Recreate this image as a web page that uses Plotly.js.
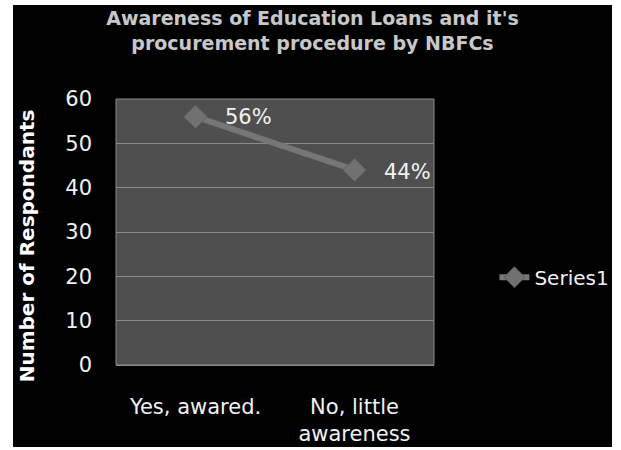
<!DOCTYPE html>
<html>
<head>
<meta charset="utf-8">
<script src="https://cdn.plot.ly/plotly-3.0.1.min.js"></script>
<style>
html,body{margin:0;padding:0;background:#fff;width:621px;height:450px;overflow:hidden;}
#chart{position:absolute;left:13px;top:5px;width:599px;height:442px;}
</style>
</head>
<body>
<div id="chart"></div>
<script>
var categories = ['Yes, awared.', 'No, little<br>awareness'];
var values = [56, 44];
var valueLabels = ['56%', '44%'];
var seriesName = 'Series1';
var yTicks = [0, 10, 20, 30, 40, 50, 60];
var titleText = "Awareness of Education Loans and it's<br>procurement procedure by NBFCs";
var yTitleText = 'Number of Respondants';

var fontFam = '"DejaVu Sans", sans-serif';

var trace = {
  x: categories,
  y: values,
  name: seriesName,
  type: 'scatter',
  mode: 'lines+markers',
  line: {color: '#767676', width: 6},
  marker: {symbol: 'diamond', size: 18, color: '#717171', line: {color: '#5c5c5c', width: 1}}
};

var labelAnnotations = categories.map(function (c, i) {
  return {
    x: c, y: values[i], xref: 'x', yref: 'y',
    text: valueLabels[i], showarrow: false,
    xanchor: 'left', yanchor: 'middle', xshift: 27, yshift: (i === 1 ? -2 : 0),
    font: {size: 21, color: '#f2f2f2', family: fontFam}
  };
});

var layout = {
  width: 599,
  height: 442,
  paper_bgcolor: '#000',
  plot_bgcolor: '#4f4f4f',
  margin: {l: 103, r: 178, t: 94, b: 82, autoexpand: false},
  font: {family: fontFam, color: '#f2f2f2'},
  title: {
    text: titleText,
    font: {size: 19, color: '#c8c8c8', family: fontFam, weight: 'bold'},
    x: 0.5, xanchor: 'center', xref: 'container',
    y: 0.955, yanchor: 'middle'
  },
  xaxis: {
    type: 'category',
    tickfont: {size: 21, color: '#f2f2f2'},
    showgrid: false,
    zeroline: false,
    showline: false,
    ticks: '',
    ticklabelstandoff: 27,
    range: [-0.5, 1.5]
  },
  yaxis: {
    range: [0, 60],
    tickvals: yTicks,
    tickfont: {size: 21, color: '#f2f2f2'},
    gridcolor: '#8a8a8a',
    gridwidth: 1,
    zeroline: true,
    zerolinecolor: '#8a8a8a',
    showline: false,
    ticks: '',
    ticklabelstandoff: 23
  },
  annotations: labelAnnotations.concat([{
    text: yTitleText, xref: 'paper', yref: 'paper', x: -0.28, y: 0.45,
    xanchor: 'center', yanchor: 'middle', textangle: -90, showarrow: false,
    font: {size: 20, color: '#ffffff', family: fontFam, weight: 'bold'}
  }]),
  shapes: [{
    type: 'rect', xref: 'paper', yref: 'paper', x0: 0, x1: 1, y0: 0, y1: 1,
    line: {color: '#8a8a8a', width: 1}, fillcolor: 'rgba(0,0,0,0)'
  }],
  showlegend: true,
  legend: {
    x: 1.19, xanchor: 'left', y: 0.33, yanchor: 'middle',
    bgcolor: 'rgba(0,0,0,0)',
    font: {size: 20, color: '#f2f2f2'}
  }
};

Plotly.newPlot('chart', [trace], layout, {displayModeBar: false, staticPlot: true});
</script>
</body>
</html>
